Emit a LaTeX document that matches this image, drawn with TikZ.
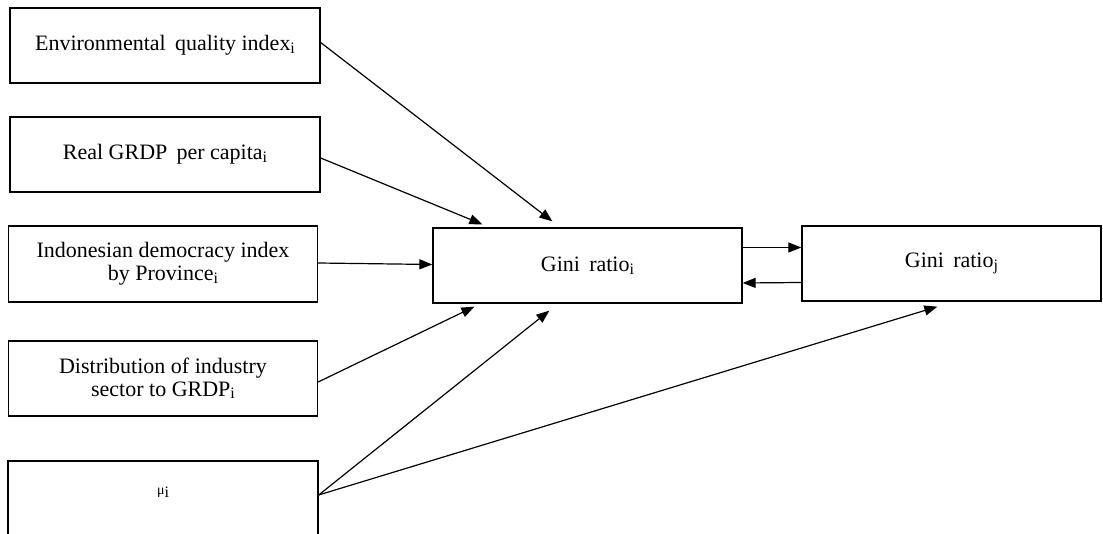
\documentclass[tikz,border=0pt]{standalone}
\usepackage{fontspec}
\setmainfont{Liberation Serif}
\usetikzlibrary{arrows.meta,calc}
\newcommand\ssub[1]{\raisebox{-2.5pt}{\fontsize{16}{16}\selectfont #1}}
\begin{document}
\begin{tikzpicture}[x=1pt,y=-1pt,
  box/.style={draw,line width=1.3pt,rectangle,inner sep=0pt,align=center,
    font=\fontsize{22}{23}\selectfont},
  conn/.style={line width=1.2pt,-{Triangle[length=13pt,width=10pt]}}]
\useasboundingbox (0,0) rectangle (1103,534);
\clip (0,0) rectangle (1103,534);
\node[box,minimum width=310,minimum height=75] (b1) at (165,45.5) {\raisebox{-3pt}{Environmental\, quality index\ssub{i}}};
\node[box,minimum width=310,minimum height=75] (b2) at (165,154.5) {\raisebox{-3pt}{Real GRDP\, per capita\ssub{i}}};
\node[box,minimum width=309,minimum height=76] (b3) at (163,264) {Indonesian democracy index\\by Province\ssub{i}};
\node[box,minimum width=309,minimum height=75] (b4) at (163,378.5) {Distribution of industry\\sector to GRDP\ssub{i}};
\node[box,minimum width=310,minimum height=84] (b5) at (163,503) {};
\node[font=\fontsize{22}{23}\selectfont] (mu) at (163,492) {{\fontsize{14}{15}\selectfont μ}\ssub{i}};
\node[box,minimum width=309,minimum height=75] (gi) at (587.5,265.5) {Gini\, ratio\ssub{i}};
\node[box,minimum width=299,minimum height=75] (gj) at (951.5,263.5) {\raisebox{-2pt}{Gini\, ratio\ssub{j}}};
\draw[conn] ([yshift=3pt]b1.east) -- ($(gi.north west)+(120,-6)$);
\draw[conn] ([yshift=-3.5pt]b2.east) -- ($(gi.north west)+(50,-3)$);
\draw[conn] ([yshift=1pt]b3.east) -- ([yshift=1pt]gi.west);
\draw[conn] ([yshift=-3.5pt]b4.east) -- ($(gi.south west)+(42,3)$);
\draw[conn] ([yshift=8pt]b5.east) -- ($(gi.south west)+(117,7)$);
\draw[conn] ([yshift=8pt]b5.east) -- ($(gj.south west)+(136,5)$);
\draw[conn] ([yshift=18pt]gi.east) -- ([yshift=16pt]gj.west);
\draw[conn] ([yshift=-19pt]gj.west) -- ([yshift=-17.5pt]gi.east);
\end{tikzpicture}
\end{document}
